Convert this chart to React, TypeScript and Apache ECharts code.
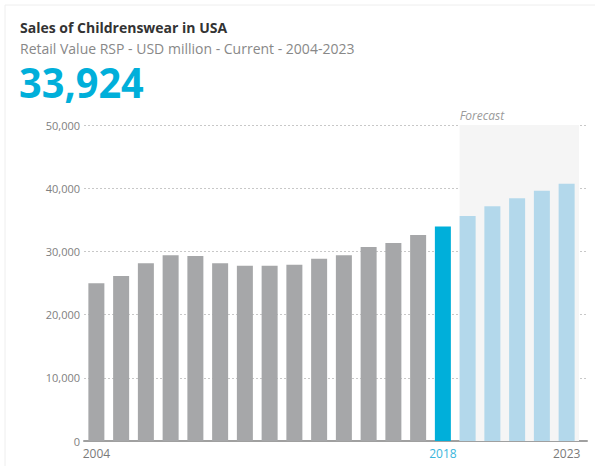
import React, { useEffect, useRef } from "react";
import * as echarts from "echarts";

const years = ["2004","2005","2006","2007","2008","2009","2010","2011","2012","2013","2014","2015","2016","2017","2018","2019","2020","2021","2022","2023"];
const values = [24950, 26100, 28120, 29380, 29270, 28120, 27740, 27740, 27900, 28850, 29380, 30700, 31330, 32600, 33924, 35600, 37130, 38400, 39610, 40720];
const currentYear = "2018";
const shownLabels = ["2004", "2018", "2023"];
const yTicks = [0, 10000, 20000, 30000, 40000, 50000];
const titleText = "Sales of Childrenswear in USA";
const subtitleText = "Retail Value RSP - USD million - Current - 2004-2023";
const headlineText = "33,924";

const GRAY = "#a6a7a9";
const BLUE = "#00afda";
const LIGHT = "#b3d8eb";
const FONT = "'Open Sans', sans-serif";

export default function App() {
  const ref = useRef<HTMLDivElement>(null);
  useEffect(() => {
    document.body.style.margin = "0";
    const chart = echarts.init(ref.current!, null, { renderer: "svg" });
    const curIdx = years.indexOf(currentYear);
    const gridLeft = 84;
    const mainRight = 16;
    const wideRight = 8;
    const totalW = 595;
    const band = (totalW - gridLeft - mainRight) / years.length;
    const wideMax = -0.5 + (totalW - gridLeft - wideRight) / band;
    const barW = 16;
    const barData = values.map((v, i) => ({
      value: v,
      itemStyle: { color: i < curIdx ? GRAY : i === curIdx ? BLUE : LIGHT },
    }));
    chart.setOption({
      animation: false,
      textStyle: { fontFamily: FONT },
      grid: [
        { left: gridLeft, right: mainRight, top: 125, bottom: 25 },
        { left: gridLeft, right: wideRight, top: 125, bottom: 25 },
      ],
      xAxis: [
        {
          type: "category",
          gridIndex: 0,
          data: years,
          axisLine: { show: false },
          axisTick: { show: false },
          axisLabel: {
            interval: (i: number, v: string) => shownLabels.includes(v),
            color: (v: string) => (v === currentYear ? "#3ab6dc" : "#7a7a7a"),
            fontSize: 12,
            margin: 6,
            fontFamily: FONT,
          },
        },
        {
          type: "value",
          gridIndex: 1,
          min: -0.5,
          max: wideMax,
          axisLine: { show: true, onZero: false, lineStyle: { color: "#a0a0a0", width: 2 } },
          axisTick: { show: false },
          axisLabel: { show: false },
          splitLine: { show: false },
        },
      ],
      yAxis: [
        {
          type: "value",
          gridIndex: 0,
          min: 0,
          max: 50000,
          interval: 10000,
          axisLabel: { show: false },
          splitLine: { show: false },
          axisLine: { show: false },
        },
        {
          type: "value",
          gridIndex: 1,
          min: yTicks[0],
          max: yTicks[yTicks.length - 1],
          interval: yTicks[1] - yTicks[0],
          axisLine: { show: false },
          axisTick: { show: false },
          axisLabel: {
            color: "#808080",
            fontSize: 11,
            margin: 4,
            fontFamily: FONT,
            formatter: (v: number) => v.toLocaleString("en-US"),
          },
          splitLine: { lineStyle: { color: "#c8c8c8", type: [2, 2], width: 1 } },
        },
      ],
      series: [
        {
          type: "scatter",
          xAxisIndex: 1,
          yAxisIndex: 1,
          data: [[0, 0]],
          symbolSize: 0,
          silent: true,
          z: 1,
          markArea: {
            silent: true,
            itemStyle: { color: "#f5f5f5" },
            label: {
              show: true,
              position: [0, -16],
              color: "#9a9a9a",
              fontStyle: "italic",
              fontSize: 12,
              fontFamily: FONT,
            },
            data: [
              [
                { name: "Forecast", xAxis: curIdx + 1 - barW / 2 / band, yAxis: yTicks[yTicks.length - 1] },
                { xAxis: years.length - 0.5, yAxis: 0 },
              ],
            ],
          },
        },
        {
          type: "bar",
          xAxisIndex: 0,
          yAxisIndex: 0,
          data: barData,
          barWidth: barW,
          z: 3,
        },
      ],
      graphic: [
        {
          type: "rect",
          shape: { x: 5, y: 5, width: 640, height: 500 },
          style: { fill: "none", stroke: "#eeeeee", lineWidth: 1 },
          silent: true,
        },
        {
          type: "text",
          x: 20,
          y: 27,
          style: { text: titleText, fill: "#333333", font: `bold 14px ${FONT}`, verticalAlign: "middle" },
        },
        {
          type: "text",
          x: 20,
          y: 48,
          style: { text: subtitleText, fill: "#888888", font: `14px ${FONT}`, verticalAlign: "middle" },
        },
        {
          type: "text",
          x: 19,
          y: 82,
          scaleX: 0.945,
          style: { text: headlineText, fill: BLUE, font: `bold 42px ${FONT}`, verticalAlign: "middle" },
        },
      ],
    });
    return () => chart.dispose();
  }, []);
  return <div ref={ref} style={{ width: 595, height: 466 }} />;
}
